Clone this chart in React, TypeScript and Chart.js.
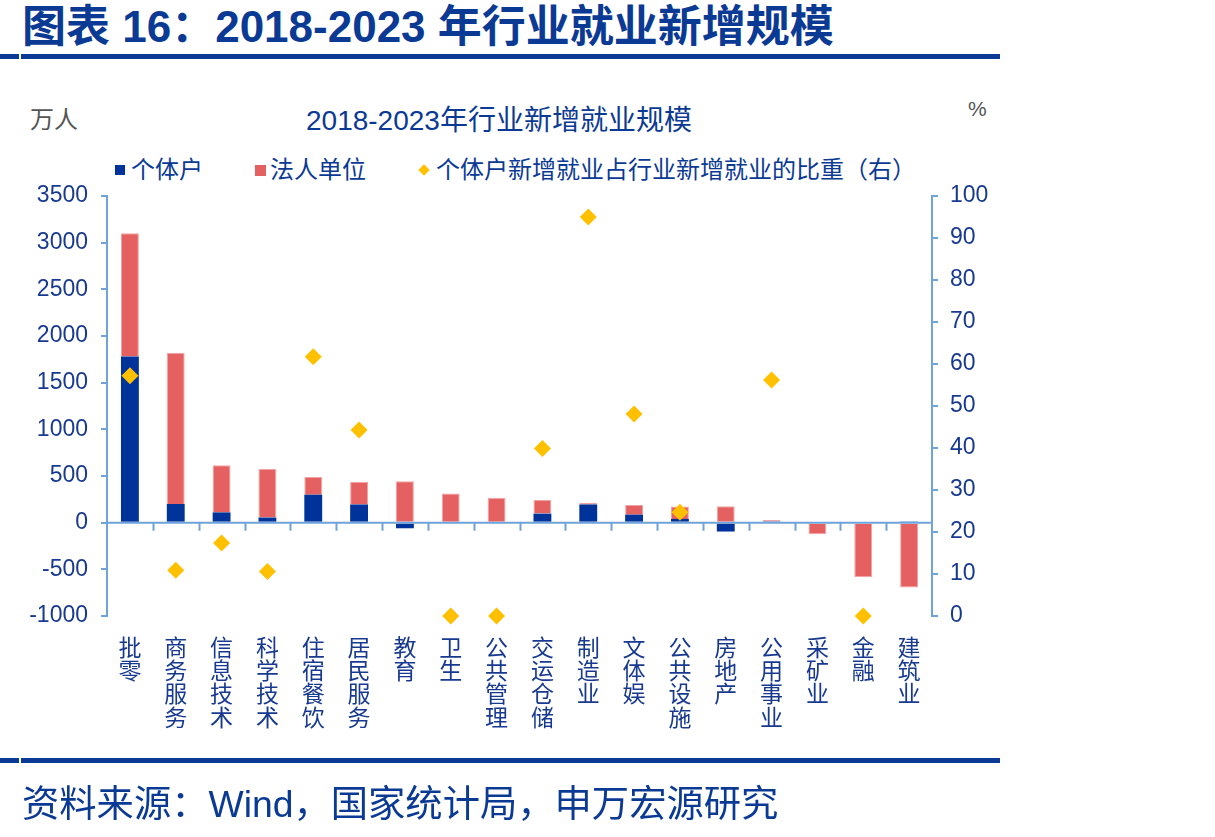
import React, { useEffect, useRef } from "react";
import { Chart, registerables } from "chart.js";

Chart.register(...registerables);

const categories = [
  "批零", "商务服务", "信息技术", "科学技术", "住宿餐饮", "居民服务", "教育", "卫生", "公共管理",
  "交运仓储", "制造业", "文体娱", "公共设施", "房地产", "公用事业", "采矿业", "金融", "建筑业",
];
const getihu = [1780, 200, 110, 55, 300, 195, -60, 0, 0, 97, 195, 86, 40, -95, 14, 0, 0, 8];
const faren = [1320, 1620, 505, 520, 190, 240, 445, 313, 268, 147, 17, 104, 132, 176, 14, -125, -585, -695];
const ratio = [57.2, 10.9, 17.4, 10.6, 61.7, 44.3, null, 0, 0, 39.9, 95.0, 48.1, 24.7, null, 56.2, null, 0, null];

const leftTicks = { min: -1000, max: 3500, step: 500 };
const rightTicks = { min: 0, max: 100, step: 10 };

const NAVY = "#0B3A94";
const TICK = "#17398F";
const AXIS = "#6FA3DA";
const BLUE = "#003399";
const RED = "#E56060";
const GOLD = "#FFC000";
const FONT = "'Liberation Sans', 'Noto Sans CJK SC', sans-serif";

const zeroLinePlugin = {
  id: "zeroLine",
  afterDatasetsDraw(chart: any) {
    const { ctx, chartArea, scales } = chart;
    const y0 = scales.y.getPixelForValue(0);
    ctx.save();
    ctx.strokeStyle = AXIS;
    ctx.lineWidth = 2;
    ctx.beginPath();
    ctx.moveTo(chartArea.left, y0);
    ctx.lineTo(chartArea.right, y0);
    for (let i = 1; i < categories.length; i++) {
      const x = Math.round((scales.x.getPixelForValue(i - 1) + scales.x.getPixelForValue(i)) / 2) + 0.5;
      ctx.moveTo(x, y0);
      ctx.lineTo(x, y0 + 8);
    }
    ctx.stroke();
    ctx.restore();
  },
};

function ChartCanvas() {
  const ref = useRef<HTMLCanvasElement>(null);
  useEffect(() => {
    if (!ref.current) return;
    const chart = new Chart(ref.current, {
      type: "bar",
      data: {
        labels: categories.map((c) => c.split("")),
        datasets: [
          {
            type: "line",
            label: "个体户新增就业占行业新增就业的比重（右）",
            data: ratio,
            yAxisID: "y1",
            showLine: false,
            pointStyle: "rectRot",
            pointRadius: 8.5,
            pointBackgroundColor: GOLD,
            pointBorderWidth: 0,
            backgroundColor: GOLD,
            clip: false,
            order: 0,
          } as any,
          {
            label: "个体户",
            data: getihu,
            backgroundColor: BLUE,
            borderWidth: 0,
            yAxisID: "y",
            order: 1,
          },
          {
            label: "法人单位",
            data: faren,
            backgroundColor: RED,
            borderColor: "#F2A3A3",
            borderWidth: 1,
            yAxisID: "y",
            order: 1,
          },
        ],
      },
      options: {
        animation: false,
        responsive: false,
        maintainAspectRatio: false,
        layout: { padding: { top: 196, left: 0, right: 183, bottom: 0 } },
        plugins: { legend: { display: false }, title: { display: false }, tooltip: { enabled: false } },
        datasets: { bar: { categoryPercentage: 1, barPercentage: 0.39 } },
        scales: {
          x: {
            stacked: true,
            grid: { display: false, drawTicks: false },
            border: { display: false },
            ticks: {
              color: TICK,
              font: { family: FONT, size: 23, lineHeight: 1.01 },
              padding: 22,
              maxRotation: 0,
              autoSkip: false,
            },
            afterFit: (s: any) => {
              s.height = 221;
            },
          },
          y: {
            stacked: true,
            position: "left",
            min: leftTicks.min,
            max: leftTicks.max,
            ticks: {
              stepSize: leftTicks.step,
              color: TICK,
              font: { family: FONT, size: 23 },
              padding: 13,
              callback: (v: any) => String(v),
            },
            grid: { drawOnChartArea: false, drawTicks: true, tickLength: 6, color: AXIS, lineWidth: 2 },
            border: { display: true, color: AXIS, width: 2 },
            afterFit: (s: any) => {
              s.width = 107;
            },
          },
          y1: {
            position: "right",
            min: rightTicks.min,
            max: rightTicks.max,
            ticks: {
              stepSize: rightTicks.step,
              color: TICK,
              font: { family: FONT, size: 23 },
              padding: 12,
              callback: (v: any) => String(v),
            },
            grid: { drawOnChartArea: false, drawTicks: true, tickLength: 6, color: AXIS, lineWidth: 2 },
            border: { display: true, color: AXIS, width: 2 },
            afterFit: (s: any) => {
              s.width = 100;
            },
          },
        },
      } as any,
      plugins: [zeroLinePlugin],
    });
    return () => chart.destroy();
  }, []);
  return (
    <canvas
      ref={ref}
      width={1215}
      height={837}
      style={{ position: "absolute", left: 0, top: 0, width: 1215, height: 837 }}
    />
  );
}

const abs = (o: React.CSSProperties): React.CSSProperties => ({
  position: "absolute",
  whiteSpace: "nowrap",
  fontFamily: FONT,
  ...o,
});

export default function App() {
  return (
    <div style={{ position: "absolute", left: 0, top: 0, width: 1215, height: 837, background: "#fff", overflow: "hidden" }}>
      <div style={abs({ left: 22, top: 3, fontSize: 44, lineHeight: "48px", fontWeight: 700, color: NAVY })}>
        图表 16：2018-2023 年行业就业新增规模
      </div>
      <div style={abs({ left: 0, top: 54, width: 19, height: 5, background: NAVY })} />
      <div style={abs({ left: 21, top: 54, width: 979, height: 5, background: NAVY })} />

      <div style={abs({ left: 30, top: 106, fontSize: 24, lineHeight: "28px", color: "#555" })}>万人</div>
      <div style={abs({ left: 306, top: 105, fontSize: 28, lineHeight: "32px", color: NAVY })}>2018-2023年行业新增就业规模</div>
      <div style={abs({ left: 968, top: 97, fontSize: 21, lineHeight: "24px", color: "#555" })}>%</div>

      <div style={abs({ left: 115, top: 165, width: 10, height: 10, background: BLUE })} />
      <div style={abs({ left: 131, top: 156, fontSize: 24, lineHeight: "28px", color: NAVY })}>个体户</div>
      <div style={abs({ left: 255, top: 165, width: 11, height: 11, background: RED })} />
      <div style={abs({ left: 270, top: 156, fontSize: 24, lineHeight: "28px", color: NAVY })}>法人单位</div>
      <div style={abs({ left: 420, top: 166, width: 8, height: 8, background: GOLD, transform: "rotate(45deg)" })} />
      <div style={abs({ left: 436, top: 156, fontSize: 24, lineHeight: "28px", color: NAVY })}>个体户新增就业占行业新增就业的比重（右）</div>

      <ChartCanvas />

      <div style={abs({ left: 0, top: 758, width: 19, height: 5, background: NAVY })} />
      <div style={abs({ left: 21, top: 758, width: 979, height: 5, background: NAVY })} />
      <div style={abs({ left: 22, top: 782, fontSize: 37.3, lineHeight: "44px", color: NAVY })}>
        资料来源：Wind，国家统计局，申万宏源研究
      </div>
    </div>
  );
}
